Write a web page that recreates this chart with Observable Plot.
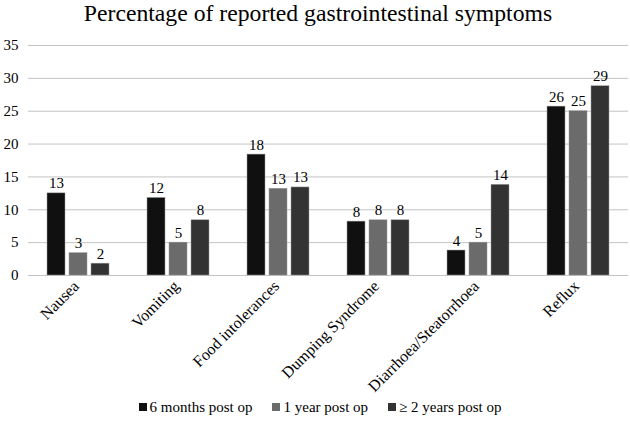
<!DOCTYPE html>
<html>
<head>
<meta charset="utf-8">
<script src="https://cdn.jsdelivr.net/npm/d3@7"></script>
<script src="https://cdn.jsdelivr.net/npm/@observablehq/plot@0.6"></script>
<style>
  html, body { margin: 0; padding: 0; background: #fff; }
  #wrap { position: relative; width: 630px; height: 429px; overflow: hidden; background: #fff; font-family: "Liberation Serif", "Times New Roman", serif; }
  #title { position: absolute; left: 0; top: 0; width: 636px; text-align: center; font-size: 23.7px; line-height: 26px; color: #000; }
  #chart { position: absolute; left: 0; top: 30px; }
  #chart svg, #chart svg text { font-family: "Liberation Serif", "Times New Roman", serif !important; }
  #legend { position: absolute; left: 0; top: 398px; width: 640px; display: flex; justify-content: center; gap: 20px; font-size: 15px; line-height: 18px; color: #000; }
  #legend .item { display: flex; align-items: center; }
  #legend .sw { width: 8px; height: 8px; margin-right: 3px; display: inline-block; }
</style>
</head>
<body>
<div id="wrap">
  <div id="title">Percentage of reported gastrointestinal symptoms</div>
  <div id="chart"></div>
  <div id="legend"></div>
</div>
<script>
const categories = ["Nausea", "Vomiting", "Food intolerances", "Dumping Syndrome", "Diarrhoea/Steatorrhoea", "Reflux"];
const series = ["6 months post op", "1 year post op", "≥ 2 years post op"];
const sixMonths = [12.5, 11.8, 18.4, 8.2, 3.8, 25.7];
const oneYear = [3.4, 5.0, 13.2, 8.4, 5.0, 25.0];
const twoYears = [1.8, 8.4, 13.4, 8.4, 13.8, 28.8];
const yTicks = [0, 5, 10, 15, 20, 25, 30, 35];
const colors = ["#101010", "#6b6b6b", "#333333"];

const valuesBySeries = [sixMonths, oneYear, twoYears];
const data = [];
categories.forEach((c, i) => {
  series.forEach((s, j) => {
    data.push({category: c, series: s, value: valuesBySeries[j][i]});
  });
});

const chart = Plot.plot({
  width: 630,
  height: 372,
  marginTop: 15,
  marginBottom: 127,
  marginLeft: 28,
  marginRight: 2,
  style: {fontFamily: "'Liberation Serif', 'Times New Roman', serif", fontSize: "15px", color: "#000", background: "#fff"},
  fx: {domain: categories, paddingInner: 0, paddingOuter: 0, label: null},
  x: {domain: series, paddingInner: 0.2, paddingOuter: 0.82, axis: null},
  y: {domain: [0, 35], label: null},
  color: {domain: series, range: colors},
  marks: [
    Plot.gridY(yTicks, {stroke: "#c3c3c3", strokeOpacity: 1, strokeWidth: 1}),
    Plot.axisY(yTicks, {tickSize: 0, tickPadding: 10, fontSize: 15, label: null}),
    Plot.axisFx({anchor: "bottom", tickSize: 0, tickRotate: -45, fontSize: 16, label: null, tickPadding: 8, dx: -2}),
    Plot.barY(data, {fx: "category", x: "series", y: "value", fill: "series", stroke: "#9a9a9a", strokeWidth: 0.5}),
    Plot.text(data, {fx: "category", x: "series", y: "value", text: d => String(Math.round(d.value)), dy: -5, lineAnchor: "bottom", fontSize: 15, fill: "#000"})
  ]
});
document.getElementById("chart").appendChild(chart);

const legend = document.getElementById("legend");
series.forEach((s, j) => {
  const item = document.createElement("div");
  item.className = "item";
  const sw = document.createElement("span");
  sw.className = "sw";
  sw.style.background = colors[j];
  const label = document.createElement("span");
  label.textContent = s;
  item.appendChild(sw);
  item.appendChild(label);
  legend.appendChild(item);
});
</script>
</body>
</html>
